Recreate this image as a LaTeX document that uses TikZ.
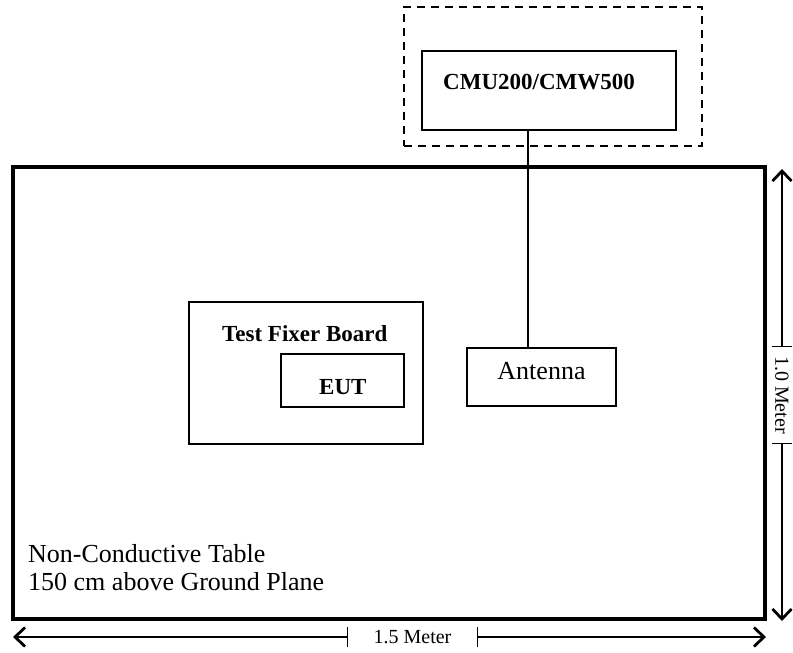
\documentclass[tikz,border=0pt]{standalone}
\usepackage{fontspec}
\setmainfont{Liberation Serif}
\usetikzlibrary{arrows.meta,positioning,calc}

\tikzset{
  box/.style={draw,line width=1.3pt,inner sep=0pt,outer sep=0pt},
  boldlbl/.style={inner sep=0pt,anchor=base west,font=\fontsize{23}{27}\selectfont\bfseries},
  plainlbl/.style={inner sep=0pt,font=\fontsize{26}{28}\selectfont},
  dimlbl/.style={inner sep=0pt,font=\fontsize{20}{24}\selectfont},
  dimline/.style={line width=1.3pt,{Straight Barb[length=10pt,width=19pt,line width=2.8pt]}-{Bar[width=20pt]}}
}

\begin{document}
\begin{tikzpicture}[x=1pt,y=-1pt]
\useasboundingbox (0,0) rectangle (793,653);

% Table
\node[box,line width=3.5pt,minimum width=752pt,minimum height=452pt] (table) at (389,393) {};
\node[plainlbl,anchor=north west,align=left] (tablelbl) at (28,544) {Non-Conductive Table\\150 cm above Ground Plane};

% Tester outside the table
\node[box,dashed,dash pattern=on 8pt off 6pt,minimum width=298pt,minimum height=139pt] (shield) at (553,76.5) {};
\node[box,minimum width=254pt,minimum height=79pt] (cmu) at (549,90.5) {};
\node[boldlbl] (cmulbl) at (443,89) {CMU200/CMW500};

% Fixture and EUT
\node[box,minimum width=234pt,minimum height=142pt] (fixer) at (306,373) {};
\node[boldlbl] (fixerlbl) at (222,341) {Test Fixer Board};
\node[box,minimum width=123pt,minimum height=53pt] (eut) at (342.5,380.5) {};
\node[boldlbl] (eutlbl) at (319,394) {EUT};

% Antenna
\node[box,minimum width=149pt,minimum height=58pt] (antenna) at (541.5,377) {};
\node[plainlbl,anchor=base] (antennalbl) at (541.5,379) {Antenna};
\coordinate (feed) at ([xshift=61pt]antenna.north west);
\draw[line width=1.3pt] (feed) -- (feed |- cmu.south);

% Width 1.5 m
\coordinate (wl) at (13,637);
\coordinate (wlt) at (348,637);
\coordinate (wrt) at (477,637);
\coordinate (wr) at (766,637);
\node[dimlbl] (wlbl) at (412.5,637) {1.5 Meter};
\draw[dimline] (wl) -- (wlt);
\draw[dimline] (wr) -- (wrt);

% Depth 1.0 m
\coordinate (ht) at (782,169);
\coordinate (htt) at (782,347);
\coordinate (hbt) at (782,443);
\coordinate (hb) at (782,621);
\node[dimlbl,rotate=-90] (hlbl) at (782,395) {1.0 Meter};
\draw[dimline] (ht) -- (htt);
\draw[dimline] (hb) -- (hbt);
\end{tikzpicture}
\end{document}
